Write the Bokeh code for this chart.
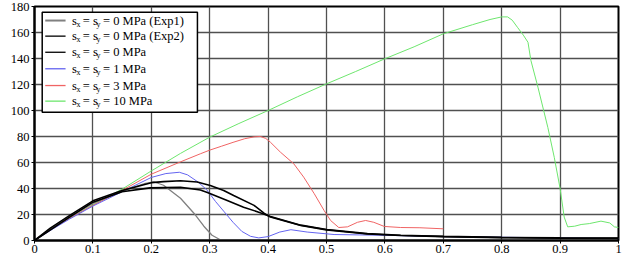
import numpy as np
from bokeh.plotting import figure
from bokeh.models import Range1d, FixedTicker, CustomJSTickFormatter, BoxAnnotation, Label
from bokeh.core.properties import value
from bokeh.embed import file_html
from bokeh.resources import INLINE

FONT = "Liberation Serif"

# ---------------- data ----------------
x_ticks = [0, 0.1, 0.2, 0.3, 0.4, 0.5, 0.6, 0.7, 0.8, 0.9, 1.0]
x_tick_labels = ["0", "0.1", "0.2", "0.3", "0.4", "0.5", "0.6", "0.7", "0.8", "0.9", "1"]
y_ticks = [0, 20, 40, 60, 80, 100, 120, 140, 160, 180]

series_names = ["0 MPa (Exp1)", "0 MPa (Exp2)", "0 MPa", "1 MPa", "3 MPa", "10 MPa"]

exp1_x = [0, 0.03, 0.06, 0.1, 0.15, 0.19, 0.205, 0.221, 0.25, 0.273, 0.29, 0.304, 0.318, 0.33]
exp1_y = [0, 9.5, 18, 28.5, 38, 44, 45, 42.5, 32.5, 21, 11, 4, 0.6, 0]

exp2_x = [0, 0.027, 0.061, 0.1, 0.15, 0.2, 0.221, 0.25, 0.2785, 0.301, 0.324, 0.341,
          0.376, 0.393, 0.404, 0.456, 0.5, 0.57, 0.627, 0.7, 0.8, 0.9, 1.0]
exp2_y = [0, 9.5, 19.5, 30.5, 38.5, 44.5, 45.3, 46, 45, 42.3, 38.5, 34.6,
          27, 21, 18, 11.5, 8.2, 5, 3.8, 3, 2.2, 1.8, 1.6]

sim0_x = [0, 0.03, 0.06, 0.1, 0.15, 0.198, 0.25, 0.284, 0.296, 0.33, 0.358, 0.384,
          0.404, 0.456, 0.5, 0.57, 0.627, 0.7, 0.8, 0.9, 1.0]
sim0_y = [0, 9, 18, 29.5, 37.5, 40.5, 41, 38.8, 37, 30.8, 25.6, 21.8,
          18.5, 11.8, 8.5, 5.3, 4, 3.2, 2.4, 2, 1.8]

sim1_x = [0, 0.03, 0.06, 0.1, 0.15, 0.2, 0.225, 0.248, 0.262, 0.28, 0.295, 0.31, 0.325,
          0.34, 0.355, 0.37, 0.384, 0.40, 0.42, 0.439, 0.467, 0.513, 0.6, 0.7, 0.8, 0.9, 1.0]
sim1_y = [0, 8.5, 16.5, 26.5, 37.5, 48.5, 51.5, 52.5, 50.5, 45, 39, 30, 22,
          14, 7, 3.2, 2, 3, 6.5, 8.3, 6.5, 4.6, 4, 3, 2.5, 2, 1.5]

sim3_x = [0, 0.03, 0.06, 0.1, 0.15, 0.2, 0.25, 0.284, 0.30, 0.32, 0.34, 0.36, 0.376, 0.387,
          0.396, 0.404, 0.421, 0.444, 0.461, 0.479, 0.496, 0.507, 0.521, 0.536, 0.553,
          0.567, 0.581, 0.599, 0.627, 0.66, 0.7]
sim3_y = [0, 9, 17, 27, 38.5, 51, 60.5, 66.7, 69.5, 72.5, 75.5, 78.3, 79.7, 80,
          78.5, 75.6, 68, 59, 48.7, 36, 23, 15.4, 10, 10.5, 14,
          15.4, 14, 10.8, 10, 9.8, 9]

sim10_x = [0, 0.03, 0.06, 0.1, 0.15, 0.2, 0.25, 0.3, 0.35, 0.4, 0.45, 0.5, 0.55, 0.6,
           0.65, 0.7, 0.75, 0.78, 0.80, 0.81, 0.818, 0.827, 0.837, 0.845, 0.85, 0.862,
           0.879, 0.89, 0.90, 0.907, 0.913, 0.925, 0.936, 0.95, 0.97, 0.985, 0.993, 1.0]
sim10_y = [0, 9, 17, 27.5, 39.5, 53.5, 67, 79.5, 90, 100, 110.5, 120.5, 130, 139.8,
           149, 159, 166, 170, 172, 172, 169.5, 164, 158, 152.5, 138.5, 118,
           87, 64, 40, 18, 10.5, 11, 12.3, 13, 14.9, 13.5, 10.5, 10]

colors = ["#808080", "#000000", "#000000", "#6464f0", "#f06464", "#6ee66e"]
widths = [1.3, 1.6, 1.6, 1.0, 1.0, 1.0]
all_x = [exp1_x, exp2_x, sim0_x, sim1_x, sim3_x, sim10_x]
all_y = [exp1_y, exp2_y, sim0_y, sim1_y, sim3_y, sim10_y]

# ---------------- figure ----------------
p = figure(width=623, height=260, output_backend="svg", toolbar_location=None,
           x_range=Range1d(0, 1), y_range=Range1d(0, 180),
           min_border_left=34, min_border_right=5, min_border_top=6, min_border_bottom=20,
           background_fill_color="white", border_fill_color="white")

p.outline_line_color = "black"
p.outline_line_width = 2

for ax in (p.xaxis[0], p.yaxis[0]):
    ax.axis_line_width = 2
    ax.axis_line_color = "black"
    ax.major_tick_in = 0
    ax.major_tick_out = 3
    ax.major_tick_line_color = "black"
    ax.minor_tick_line_color = None
    ax.major_label_text_font = FONT
    ax.major_label_text_font_size = "12.5px"
    ax.major_label_text_color = "black"

p.xaxis.ticker = FixedTicker(ticks=x_ticks)
p.xaxis.formatter = CustomJSTickFormatter(
    args=dict(tvals=x_ticks, tlabels=x_tick_labels),
    code="for (let i = 0; i < tvals.length; i++) { if (Math.abs(tvals[i] - tick) < 1e-9) return tlabels[i]; } return '';")
p.xaxis.major_label_standoff = 1
p.yaxis.ticker = FixedTicker(ticks=y_ticks)
p.yaxis.major_label_standoff = 2

p.xgrid.grid_line_color = "#505050"
p.ygrid.grid_line_color = "#505050"
p.xgrid.grid_line_width = 1.3
p.ygrid.grid_line_width = 1.3

# draw order: colored first, blacks on top
for i in [5, 4, 3, 0, 2, 1]:
    p.line(all_x[i], all_y[i], line_color=colors[i], line_width=widths[i])

# ---------------- legend (manual, for subscripts) ----------------
LEG_LEFT, LEG_RIGHT, LEG_BOTTOM, LEG_TOP = 0.0132, 0.279, 98.7, 175.6
p.add_layout(BoxAnnotation(left=LEG_LEFT, right=LEG_RIGHT, bottom=LEG_BOTTOM, top=LEG_TOP,
                           fill_color="white", fill_alpha=1.0,
                           line_color="black", line_width=1.5, line_alpha=1.0))

row_y = [169.2, 157.2, 144.8, 132.1, 119.2, 107.2]
SW_X0, SW_X1 = 0.0184, 0.0532
TXT_X = 0.0642
sw_widths = [2.0, 1.3, 1.3, 1.3, 1.3, 1.3]
for i in range(6):
    p.segment(x0=[SW_X0], y0=[row_y[i]], x1=[SW_X1], y1=[row_y[i]],
              line_color=colors[i], line_width=sw_widths[i], level="overlay")

n = len(row_y)
common = dict(text_font=value(FONT), text_color="black", text_baseline="middle",
              text_align="left", level="overlay")
p.text(x=[TXT_X] * n, y=row_y, text=["s"] * n, x_offset=0, y_offset=0,
       text_font_size=value("12.5px"), **common)
p.text(x=[TXT_X] * n, y=row_y, text=["x"] * n, x_offset=4.6, y_offset=3.5,
       text_font_size=value("8px"), **common)
p.text(x=[TXT_X] * n, y=row_y, text=["= s"] * n, x_offset=10.8, y_offset=0,
       text_font_size=value("12.5px"), **common)
p.text(x=[TXT_X] * n, y=row_y, text=["y"] * n, x_offset=24.6, y_offset=3.5,
       text_font_size=value("8px"), **common)
p.text(x=[TXT_X] * n, y=row_y, text=["= " + s for s in series_names], x_offset=31,
       y_offset=0, text_font_size=value("12.5px"), **common)

# ---------------- axis titles ----------------
p.add_layout(Label(x=0.5, y=-14.2, text="Strain (%)", text_align="center",
                   text_baseline="middle", text_font=FONT, text_font_size="12px",
                   text_color="black"))
p.add_layout(Label(x=-0.0485, y=90, text="Axial Stress (MPa)", angle=np.pi / 2,
                   text_align="center", text_baseline="middle", text_font=FONT,
                   text_font_size="12px", text_color="black"))

open("out.html", "w").write(file_html(p, INLINE))
